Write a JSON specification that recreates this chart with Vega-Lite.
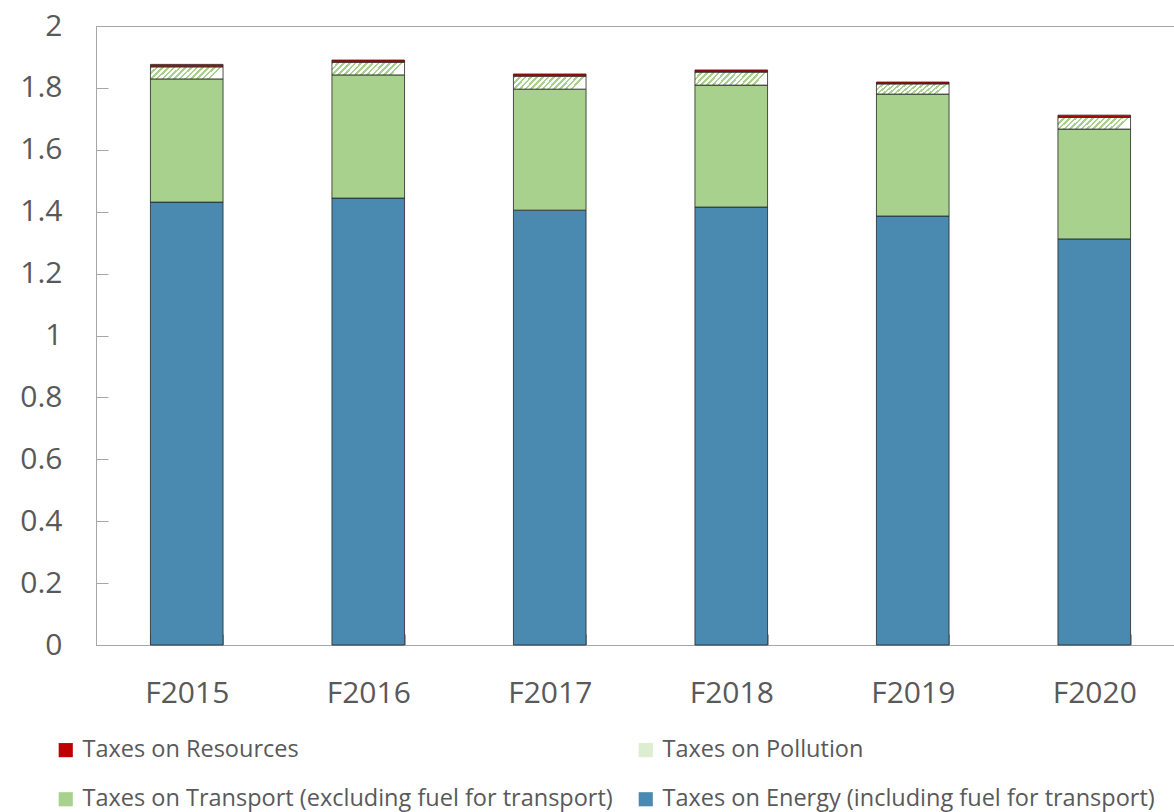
{
  "$schema": "https://vega.github.io/schema/vega-lite/v6.json",
  "width": 1089,
  "height": 619,
  "autosize": "none",
  "padding": {"left": 96, "top": 26, "right": -11, "bottom": 167},
  "background": "white",
  "config": {"view": {"stroke": "#a6a6a6", "strokeWidth": 1}, "font": "Open Sans"},
  "data": {
    "values": [
      {"year": "F2015", "tax": "Taxes on Energy (including fuel for transport)", "rank": 1, "value": 1.431},
      {"year": "F2015", "tax": "Taxes on Transport (excluding fuel for transport)", "rank": 2, "value": 0.398},
      {"year": "F2015", "tax": "Taxes on Pollution", "rank": 3, "value": 0.039},
      {"year": "F2015", "tax": "Taxes on Resources", "rank": 4, "value": 0.008},
      {"year": "F2016", "tax": "Taxes on Energy (including fuel for transport)", "rank": 1, "value": 1.444},
      {"year": "F2016", "tax": "Taxes on Transport (excluding fuel for transport)", "rank": 2, "value": 0.398},
      {"year": "F2016", "tax": "Taxes on Pollution", "rank": 3, "value": 0.041},
      {"year": "F2016", "tax": "Taxes on Resources", "rank": 4, "value": 0.007},
      {"year": "F2017", "tax": "Taxes on Energy (including fuel for transport)", "rank": 1, "value": 1.405},
      {"year": "F2017", "tax": "Taxes on Transport (excluding fuel for transport)", "rank": 2, "value": 0.391},
      {"year": "F2017", "tax": "Taxes on Pollution", "rank": 3, "value": 0.042},
      {"year": "F2017", "tax": "Taxes on Resources", "rank": 4, "value": 0.007},
      {"year": "F2018", "tax": "Taxes on Energy (including fuel for transport)", "rank": 1, "value": 1.415},
      {"year": "F2018", "tax": "Taxes on Transport (excluding fuel for transport)", "rank": 2, "value": 0.394},
      {"year": "F2018", "tax": "Taxes on Pollution", "rank": 3, "value": 0.042},
      {"year": "F2018", "tax": "Taxes on Resources", "rank": 4, "value": 0.007},
      {"year": "F2019", "tax": "Taxes on Energy (including fuel for transport)", "rank": 1, "value": 1.386},
      {"year": "F2019", "tax": "Taxes on Transport (excluding fuel for transport)", "rank": 2, "value": 0.394},
      {"year": "F2019", "tax": "Taxes on Pollution", "rank": 3, "value": 0.033},
      {"year": "F2019", "tax": "Taxes on Resources", "rank": 4, "value": 0.006},
      {"year": "F2020", "tax": "Taxes on Energy (including fuel for transport)", "rank": 1, "value": 1.312},
      {"year": "F2020", "tax": "Taxes on Transport (excluding fuel for transport)", "rank": 2, "value": 0.355},
      {"year": "F2020", "tax": "Taxes on Pollution", "rank": 3, "value": 0.038},
      {"year": "F2020", "tax": "Taxes on Resources", "rank": 4, "value": 0.007}
    ]
  },
  "mark": {"type": "bar", "stroke": "#262626", "strokeWidth": 0.8},
  "encoding": {
    "x": {
      "field": "year", "type": "nominal", "sort": null,
      "scale": {"paddingInner": 0.6, "paddingOuter": 0.3},
      "axis": {"title": null, "labelAngle": 0, "labelFontSize": 30, "labelColor": "#595959", "labelFont": "Open Sans",
               "tickBand": "extent", "tickSize": -11, "domainColor": "#a6a6a6", "tickColor": "#a6a6a6", "labelPadding": 44}
    },
    "y": {
      "field": "value", "type": "quantitative", "stack": "zero",
      "scale": {"domain": [0, 2], "nice": false},
      "axis": {"title": null, "values": [0, 0.2, 0.4, 0.6, 0.8, 1, 1.2, 1.4, 1.6, 1.8, 2], "format": "~g",
               "labelFontSize": 30, "labelColor": "#595959", "labelFont": "Open Sans", "grid": false,
               "domainColor": "#a6a6a6", "tickColor": "#a6a6a6", "tickSize": -12, "labelPadding": 46}
    },
    "color": {
      "condition": {
        "test": "datum.tax === 'Taxes on Pollution'",
        "value": {"gradient": "linear", "x1": 0, "y1": 0, "x2": 1, "y2": 0.17, "stops": [
            {"offset": 0, "color": "#a9d18e"}, {"offset": 0.035, "color": "#a9d18e"}, {"offset": 0.035, "color": "#ffffff"}, {"offset": 0.077, "color": "#ffffff"},
            {"offset": 0.077, "color": "#a9d18e"}, {"offset": 0.112, "color": "#a9d18e"}, {"offset": 0.112, "color": "#ffffff"}, {"offset": 0.154, "color": "#ffffff"},
            {"offset": 0.154, "color": "#a9d18e"}, {"offset": 0.189, "color": "#a9d18e"}, {"offset": 0.189, "color": "#ffffff"}, {"offset": 0.231, "color": "#ffffff"},
            {"offset": 0.231, "color": "#a9d18e"}, {"offset": 0.266, "color": "#a9d18e"}, {"offset": 0.266, "color": "#ffffff"}, {"offset": 0.308, "color": "#ffffff"},
            {"offset": 0.308, "color": "#a9d18e"}, {"offset": 0.343, "color": "#a9d18e"}, {"offset": 0.343, "color": "#ffffff"}, {"offset": 0.385, "color": "#ffffff"},
            {"offset": 0.385, "color": "#a9d18e"}, {"offset": 0.42, "color": "#a9d18e"}, {"offset": 0.42, "color": "#ffffff"}, {"offset": 0.462, "color": "#ffffff"},
            {"offset": 0.462, "color": "#a9d18e"}, {"offset": 0.497, "color": "#a9d18e"}, {"offset": 0.497, "color": "#ffffff"}, {"offset": 0.538, "color": "#ffffff"},
            {"offset": 0.538, "color": "#a9d18e"}, {"offset": 0.573, "color": "#a9d18e"}, {"offset": 0.573, "color": "#ffffff"}, {"offset": 0.615, "color": "#ffffff"},
            {"offset": 0.615, "color": "#a9d18e"}, {"offset": 0.65, "color": "#a9d18e"}, {"offset": 0.65, "color": "#ffffff"}, {"offset": 0.692, "color": "#ffffff"},
            {"offset": 0.692, "color": "#a9d18e"}, {"offset": 0.727, "color": "#a9d18e"}, {"offset": 0.727, "color": "#ffffff"}, {"offset": 0.769, "color": "#ffffff"},
            {"offset": 0.769, "color": "#a9d18e"}, {"offset": 0.804, "color": "#a9d18e"}, {"offset": 0.804, "color": "#ffffff"}, {"offset": 0.846, "color": "#ffffff"},
            {"offset": 0.846, "color": "#a9d18e"}, {"offset": 0.881, "color": "#a9d18e"}, {"offset": 0.881, "color": "#ffffff"}, {"offset": 0.923, "color": "#ffffff"},
            {"offset": 0.923, "color": "#a9d18e"}, {"offset": 0.958, "color": "#a9d18e"}, {"offset": 0.958, "color": "#ffffff"}, {"offset": 1, "color": "#ffffff"}
          ]}
      },
      "field": "tax", "type": "nominal",
      "scale": {
        "domain": ["Taxes on Resources", "Taxes on Pollution", "Taxes on Transport (excluding fuel for transport)", "Taxes on Energy (including fuel for transport)"],
        "range": ["#c00000", "#dcedd0", "#a9d18e", "#4a8ab0"]
      },
      "legend": {
        "orient": "none", "legendX": -42, "legendY": 712, "columns": 2, "direction": "horizontal", "title": null,
        "symbolType": "square", "symbolSize": 200, "symbolStrokeColor": "#262626", "symbolStrokeWidth": 0.8,
        "labelFontSize": 23.5, "labelColor": "#595959", "labelFont": "Open Sans", "labelLimit": 0, "labelOffset": 5,
        "rowPadding": 24.5, "columnPadding": 21, "padding": 0,
        "encode": {
          "symbols": {
            "update": {
              "fill": [
                {"test": "datum.value === 'Taxes on Pollution'",
                 "value": {"gradient": "linear", "x1": 0, "y1": 0, "x2": 1, "y2": 1, "stops": [
                   {"offset": 0, "color": "#a9d18e"}, {"offset": 0.1, "color": "#a9d18e"}, {"offset": 0.1, "color": "#ffffff"}, {"offset": 0.25, "color": "#ffffff"},
                   {"offset": 0.25, "color": "#a9d18e"}, {"offset": 0.35, "color": "#a9d18e"}, {"offset": 0.35, "color": "#ffffff"}, {"offset": 0.5, "color": "#ffffff"},
                   {"offset": 0.5, "color": "#a9d18e"}, {"offset": 0.6, "color": "#a9d18e"}, {"offset": 0.6, "color": "#ffffff"}, {"offset": 0.75, "color": "#ffffff"},
                   {"offset": 0.75, "color": "#a9d18e"}, {"offset": 0.85, "color": "#a9d18e"}, {"offset": 0.85, "color": "#ffffff"}, {"offset": 1, "color": "#ffffff"}
                 ]}},
                {"scale": "color", "field": "value"}
              ]
            }
          }
        }
      }
    },
    "order": {"field": "rank", "type": "quantitative"}
  }
}
